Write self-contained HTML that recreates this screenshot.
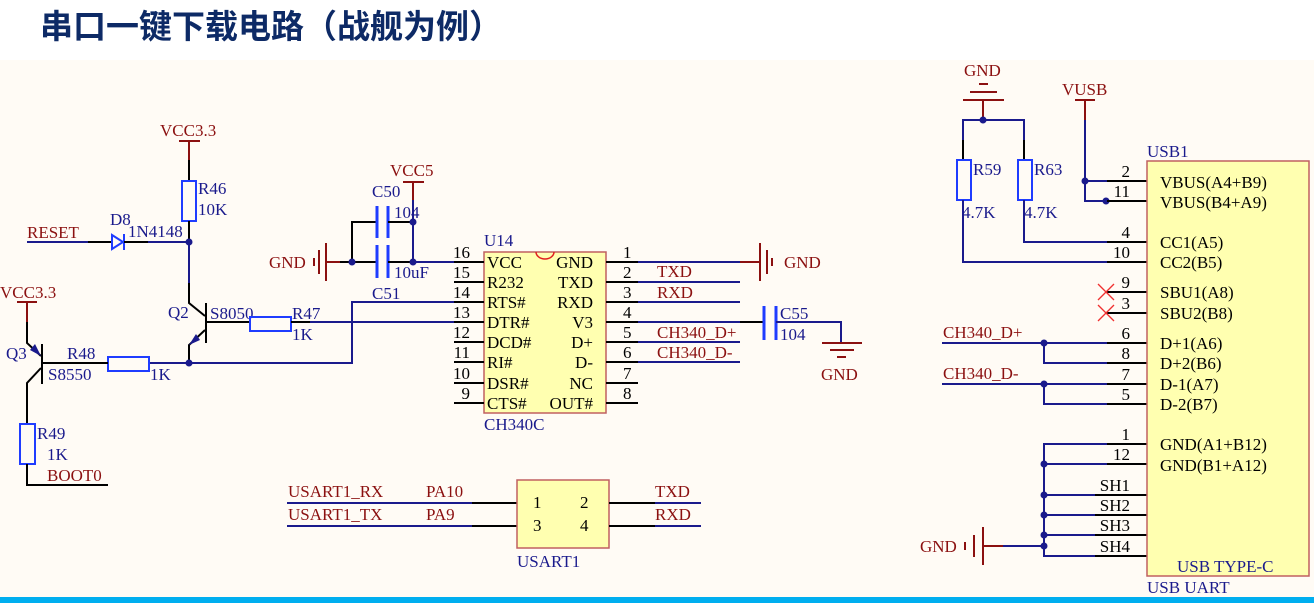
<!DOCTYPE html>
<html><head><meta charset="utf-8"><style>
html,body{margin:0;padding:0;background:#fff}
svg{display:block}
.t{font-family:"Liberation Serif",serif;font-size:17px}
.r{fill:#8b1010}.b{fill:#1a1a8c}.k{fill:#000}
.w{stroke:#1a1a8c;stroke-width:2;fill:none}
.p{stroke:#000;stroke-width:2;fill:none}
.rd{stroke:#8b1010;stroke-width:2;fill:none}
.res{stroke:#1f3cff;stroke-width:2;fill:none}
.cap{stroke:#1f3cff;stroke-width:3}
</style></head><body>
<svg width="1314" height="603" viewBox="0 0 1314 603" xmlns="http://www.w3.org/2000/svg">
<rect x="0" y="0" width="1314" height="60" fill="#fff"/>
<rect x="0" y="60" width="1314" height="537" fill="#fffbf5"/>
<rect x="0" y="597" width="1314" height="6" fill="#00aeef"/>
<text x="40" y="38" font-family="'Liberation Sans','Noto Sans CJK SC',sans-serif" font-size="33" font-weight="bold" fill="#0d2a66">串口一键下载电路（战舰为例）</text>

<g class="t">
<text x="160" y="136" class="r">VCC3.3</text>
<line x1="179" y1="141" x2="200" y2="141" class="rd"/>
<line x1="189" y1="141" x2="189" y2="160" class="rd"/>
<line x1="189" y1="160" x2="189" y2="181" class="p"/>
<rect x="182" y="181" width="14" height="40" class="res"/>
<text x="198" y="194" class="b">R46</text><text x="198" y="215" class="b">10K</text>
<line x1="189" y1="221" x2="189" y2="242" class="p"/>
<text x="27" y="238" class="r">RESET</text>
<line x1="27" y1="242" x2="88" y2="242" class="w"/>
<line x1="88" y1="242" x2="112" y2="242" class="p"/>
<polygon points="112,235 112,249 123,242" fill="none" stroke="#1f3cff" stroke-width="2"/>
<line x1="124" y1="234" x2="124" y2="250" stroke="#1f3cff" stroke-width="2"/>
<line x1="124" y1="242" x2="148" y2="242" class="p"/>
<line x1="148" y1="242" x2="189" y2="242" class="w"/>
<text x="110" y="225" class="b">D8</text><text x="128" y="237" class="b">1N4148</text>
<circle cx="189" cy="242" r="3.5" fill="#1a1a8c"/>
<line x1="189" y1="242" x2="189" y2="283" class="w"/>
<polyline points="189,283 189,303 205,316" class="p"/>
<line x1="206" y1="303" x2="206" y2="343" class="p"/>
<polyline points="205,330 189,345 189,363" class="p"/>
<polygon points="189,345 196,334 200,340" fill="#1a1a8c"/>
<text x="168" y="318" class="b">Q2</text><text x="210" y="319" class="b">S8050</text>
<line x1="206" y1="322" x2="250" y2="322" class="p"/>
<rect x="250" y="317" width="41" height="14" class="res"/>
<text x="292" y="319" class="b">R47</text><text x="292" y="340" class="b">1K</text>
<line x1="291" y1="322" x2="310" y2="322" class="p"/>
<line x1="310" y1="322" x2="454" y2="322" class="w"/>
<circle cx="189" cy="363" r="3.5" fill="#1a1a8c"/>
<polyline points="189,363 352,363 352,302 454,302" class="w"/>
<line x1="149" y1="363" x2="189" y2="363" class="w"/>
<rect x="108" y="357" width="41" height="14" class="res"/>
<text x="67" y="359" class="b">R48</text><text x="150" y="380" class="b">1K</text>
<line x1="42" y1="363" x2="108" y2="363" class="p"/>
<text x="0" y="298" class="r">VCC3.3</text>
<line x1="17" y1="302" x2="37" y2="302" class="rd"/>
<line x1="27" y1="302" x2="27" y2="322" class="rd"/>
<polyline points="27,322 27,343 41,356" class="p"/>
<polygon points="41,356 30,350 35,344" fill="#1a1a8c"/>
<line x1="42" y1="344" x2="42" y2="384" class="p"/>
<polyline points="41,368 27,383 27,424" class="p"/>
<text x="6" y="359" class="b">Q3</text><text x="48" y="380" class="b">S8550</text>
<rect x="20" y="424" width="15" height="40" class="res"/>
<text x="37" y="439" class="b">R49</text><text x="47" y="460" class="b">1K</text>
<polyline points="27,464 27,485 108,485" class="p"/>
<text x="47" y="481" class="r">BOOT0</text>

<text x="390" y="176" class="r">VCC5</text>
<line x1="403" y1="182" x2="424" y2="182" class="rd"/>
<line x1="413" y1="182" x2="413" y2="200" class="rd"/>
<line x1="413" y1="200" x2="413" y2="262" class="w"/>
<text x="269" y="268" class="r">GND</text>
<line x1="314" y1="258" x2="314" y2="266" class="rd"/>
<line x1="319" y1="250" x2="319" y2="274" class="rd"/>
<line x1="326" y1="243" x2="326" y2="281" class="rd"/>
<line x1="326" y1="262" x2="340" y2="262" class="rd"/>
<polyline points="340,262 376,262" class="p"/>
<polyline points="352,262 352,222 376,222" class="p"/>
<line x1="377" y1="206" x2="377" y2="238" class="cap"/><line x1="388" y1="206" x2="388" y2="238" class="cap"/>
<line x1="377" y1="245" x2="377" y2="278" class="cap"/><line x1="388" y1="245" x2="388" y2="278" class="cap"/>
<line x1="388" y1="222" x2="413" y2="222" class="p"/>
<line x1="388" y1="262" x2="413" y2="262" class="p"/>
<circle cx="352" cy="262" r="3.5" fill="#1a1a8c"/>
<circle cx="413" cy="222" r="3.5" fill="#1a1a8c"/>
<circle cx="413" cy="262" r="3.5" fill="#1a1a8c"/>
<text x="372" y="197" class="b">C50</text><text x="394" y="218" class="b">104</text>
<text x="394" y="278" class="b">10uF</text><text x="372" y="299" class="b">C51</text>
<line x1="413" y1="262" x2="454" y2="262" class="w"/>

<text x="484" y="246" class="b">U14</text>
<rect x="484" y="252" width="122" height="161" fill="#ffffb0" stroke="#c06060" stroke-width="1.5"/>
<path d="M536,252 a9,7 0 0 0 18,0" fill="none" stroke="#e02020" stroke-width="1.5"/>
<g class="k">
<text x="487" y="268">VCC</text><text x="487" y="288">R232</text><text x="487" y="308">RTS#</text><text x="487" y="328">DTR#</text>
<text x="487" y="348">DCD#</text><text x="487" y="368">RI#</text><text x="487" y="389">DSR#</text><text x="487" y="409">CTS#</text>
<g text-anchor="end"><text x="593" y="268">GND</text><text x="593" y="288">TXD</text><text x="593" y="308">RXD</text><text x="593" y="328">V3</text>
<text x="593" y="348">D+</text><text x="593" y="368">D-</text><text x="593" y="389">NC</text><text x="593" y="409">OUT#</text>
<text x="470" y="258">16</text><text x="470" y="278">15</text><text x="470" y="298">14</text><text x="470" y="318">13</text>
<text x="470" y="338">12</text><text x="470" y="358">11</text><text x="470" y="379">10</text><text x="470" y="399">9</text></g>
<text x="623" y="258">1</text><text x="623" y="278">2</text><text x="623" y="298">3</text><text x="623" y="318">4</text>
<text x="623" y="338">5</text><text x="623" y="358">6</text><text x="623" y="379">7</text><text x="623" y="399">8</text>
</g>
<g class="p">
<line x1="454" y1="262" x2="484" y2="262"/><line x1="454" y1="282" x2="484" y2="282"/><line x1="454" y1="302" x2="484" y2="302"/><line x1="454" y1="322" x2="484" y2="322"/>
<line x1="454" y1="342" x2="484" y2="342"/><line x1="454" y1="362" x2="484" y2="362"/><line x1="454" y1="383" x2="484" y2="383"/><line x1="454" y1="403" x2="484" y2="403"/>
<line x1="606" y1="262" x2="638" y2="262"/><line x1="606" y1="282" x2="638" y2="282"/><line x1="606" y1="302" x2="638" y2="302"/><line x1="606" y1="322" x2="638" y2="322"/>
<line x1="606" y1="342" x2="638" y2="342"/><line x1="606" y1="362" x2="638" y2="362"/><line x1="606" y1="383" x2="638" y2="383"/><line x1="606" y1="403" x2="638" y2="403"/>
</g>
<g class="w">
<line x1="638" y1="262" x2="740" y2="262"/><line x1="638" y1="282" x2="740" y2="282"/><line x1="638" y1="302" x2="740" y2="302"/>
<line x1="638" y1="322" x2="740" y2="322"/><line x1="638" y1="342" x2="740" y2="342"/><line x1="638" y1="362" x2="740" y2="362"/>
</g>
<text x="484" y="430" class="b">CH340C</text>
<line x1="740" y1="262" x2="760" y2="262" class="rd"/>
<line x1="760" y1="243" x2="760" y2="281" class="rd"/><line x1="767" y1="250" x2="767" y2="274" class="rd"/><line x1="772" y1="258" x2="772" y2="266" class="rd"/>
<text x="784" y="268" class="r">GND</text>
<text x="657" y="277" class="r">TXD</text><text x="657" y="298" class="r">RXD</text>
<text x="657" y="338" class="r">CH340_D+</text><text x="657" y="358" class="r">CH340_D-</text>
<line x1="740" y1="322" x2="764" y2="322" class="p"/>
<line x1="764" y1="306" x2="764" y2="340" class="cap"/><line x1="776" y1="306" x2="776" y2="340" class="cap"/>
<polyline points="776,322 841,322 841,343" class="w"/>
<line x1="822" y1="343" x2="862" y2="343" class="rd"/><line x1="830" y1="350" x2="854" y2="350" class="rd"/><line x1="837" y1="357" x2="846" y2="357" class="rd"/>
<text x="780" y="319" class="b">C55</text><text x="780" y="340" class="b">104</text>
<text x="821" y="380" class="r">GND</text>

<text x="288" y="497" class="r">USART1_RX</text><text x="426" y="497" class="r">PA10</text>
<text x="288" y="520" class="r">USART1_TX</text><text x="426" y="520" class="r">PA9</text>
<line x1="287" y1="503" x2="472" y2="503" class="w"/><line x1="287" y1="526" x2="472" y2="526" class="w"/>
<line x1="472" y1="503" x2="517" y2="503" class="p"/><line x1="472" y1="526" x2="517" y2="526" class="p"/>
<rect x="517" y="480" width="92" height="68" fill="#ffffb0" stroke="#c06060" stroke-width="1.5"/>
<text x="533" y="508" class="k">1</text><text x="580" y="508" class="k">2</text>
<text x="533" y="531" class="k">3</text><text x="580" y="531" class="k">4</text>
<line x1="609" y1="503" x2="655" y2="503" class="p"/><line x1="609" y1="526" x2="655" y2="526" class="p"/>
<line x1="655" y1="503" x2="701" y2="503" class="w"/><line x1="655" y1="526" x2="701" y2="526" class="w"/>
<text x="655" y="497" class="r">TXD</text><text x="655" y="520" class="r">RXD</text>
<text x="517" y="567" class="b">USART1</text>

<text x="964" y="76" class="r">GND</text>
<line x1="979" y1="84" x2="988" y2="84" class="rd"/><line x1="970" y1="92" x2="997" y2="92" class="rd"/><line x1="963" y1="100" x2="1004" y2="100" class="rd"/>
<line x1="983" y1="100" x2="983" y2="120" class="rd"/>
<polyline points="963,140 963,120 1024,120 1024,140" class="w"/>
<circle cx="983" cy="120" r="3.5" fill="#1a1a8c"/>
<line x1="963" y1="140" x2="963" y2="160" class="p"/><line x1="1024" y1="140" x2="1024" y2="160" class="p"/>
<rect x="957" y="160" width="14" height="40" class="res"/><rect x="1018" y="160" width="14" height="40" class="res"/>
<text x="973" y="175" class="b">R59</text><text x="1034" y="175" class="b">R63</text>
<text x="962" y="218" class="b">4.7K</text><text x="1024" y="218" class="b">4.7K</text>
<polyline points="1024,200 1024,242 1147,242" class="w"/>
<polyline points="963,200 963,262 1147,262" class="w"/>
<text x="1062" y="95" class="r">VUSB</text>
<line x1="1075" y1="100" x2="1095" y2="100" class="rd"/><line x1="1085" y1="100" x2="1085" y2="120" class="rd"/>
<polyline points="1085,120 1085,201 1147,201" class="w"/>
<line x1="1085" y1="181" x2="1147" y2="181" class="w"/>
<circle cx="1085" cy="181" r="3.5" fill="#1a1a8c"/><circle cx="1106" cy="201" r="3.5" fill="#1a1a8c"/>
<text x="943" y="338" class="r">CH340_D+</text><text x="943" y="379" class="r">CH340_D-</text>
<line x1="942" y1="343" x2="1147" y2="343" class="w"/><polyline points="1044,343 1044,363 1147,363" class="w"/>
<line x1="942" y1="384" x2="1147" y2="384" class="w"/><polyline points="1044,384 1044,404 1147,404" class="w"/>
<circle cx="1044" cy="343" r="3.5" fill="#1a1a8c"/><circle cx="1044" cy="384" r="3.5" fill="#1a1a8c"/>
<g class="w">
<polyline points="1147,444 1044,444 1044,556 1147,556"/>
<line x1="1044" y1="464" x2="1147" y2="464"/><line x1="1044" y1="495" x2="1147" y2="495"/>
<line x1="1044" y1="515" x2="1147" y2="515"/><line x1="1044" y1="535" x2="1147" y2="535"/>
<line x1="1003" y1="546" x2="1044" y2="546"/>
</g>
<g fill="#1a1a8c"><circle cx="1044" cy="464" r="3.5"/><circle cx="1044" cy="495" r="3.5"/><circle cx="1044" cy="515" r="3.5"/><circle cx="1044" cy="535" r="3.5"/><circle cx="1044" cy="546" r="3.5"/></g>
<text x="920" y="552" class="r">GND</text>
<line x1="965" y1="542" x2="965" y2="550" class="rd"/><line x1="974" y1="535" x2="974" y2="557" class="rd"/><line x1="983" y1="527" x2="983" y2="565" class="rd"/>
<line x1="983" y1="546" x2="1003" y2="546" class="rd"/>
<g class="p">
<line x1="1107" y1="181" x2="1147" y2="181"/><line x1="1107" y1="201" x2="1147" y2="201"/><line x1="1107" y1="242" x2="1147" y2="242"/><line x1="1107" y1="262" x2="1147" y2="262"/>
<line x1="1107" y1="292" x2="1147" y2="292"/><line x1="1107" y1="313" x2="1147" y2="313"/>
<line x1="1107" y1="343" x2="1147" y2="343"/><line x1="1107" y1="363" x2="1147" y2="363"/><line x1="1107" y1="384" x2="1147" y2="384"/><line x1="1107" y1="404" x2="1147" y2="404"/>
<line x1="1107" y1="444" x2="1147" y2="444"/><line x1="1107" y1="464" x2="1147" y2="464"/>
<line x1="1095" y1="495" x2="1147" y2="495"/><line x1="1095" y1="515" x2="1147" y2="515"/><line x1="1095" y1="535" x2="1147" y2="535"/><line x1="1095" y1="556" x2="1147" y2="556"/>
</g>
<g stroke="#f03030" stroke-width="1.3">
<line x1="1098" y1="284" x2="1114" y2="300"/><line x1="1114" y1="284" x2="1098" y2="300"/>
<line x1="1098" y1="305" x2="1114" y2="321"/><line x1="1114" y1="305" x2="1098" y2="321"/>
</g>
<text x="1147" y="157" class="b">USB1</text>
<rect x="1147" y="161" width="162" height="415" fill="#ffffb0" stroke="#c06060" stroke-width="1.5"/>
<g class="k">
<text x="1160" y="188">VBUS(A4+B9)</text><text x="1160" y="208">VBUS(B4+A9)</text>
<text x="1160" y="248">CC1(A5)</text><text x="1160" y="268">CC2(B5)</text>
<text x="1160" y="298">SBU1(A8)</text><text x="1160" y="319">SBU2(B8)</text>
<text x="1160" y="349">D+1(A6)</text><text x="1160" y="369">D+2(B6)</text>
<text x="1160" y="390">D-1(A7)</text><text x="1160" y="410">D-2(B7)</text>
<text x="1160" y="450">GND(A1+B12)</text><text x="1160" y="471">GND(B1+A12)</text>
<g text-anchor="end">
<text x="1130" y="177">2</text><text x="1130" y="197">11</text><text x="1130" y="238">4</text><text x="1130" y="258">10</text>
<text x="1130" y="288">9</text><text x="1130" y="309">3</text><text x="1130" y="339">6</text><text x="1130" y="359">8</text>
<text x="1130" y="380">7</text><text x="1130" y="400">5</text><text x="1130" y="440">1</text><text x="1130" y="460">12</text>
<text x="1130" y="491">SH1</text><text x="1130" y="511">SH2</text><text x="1130" y="531">SH3</text><text x="1130" y="552">SH4</text>
</g></g>
<text x="1177" y="572" class="b">USB TYPE-C</text>
<text x="1147" y="593" class="b">USB UART</text>
</g>
</svg>
</body></html>
